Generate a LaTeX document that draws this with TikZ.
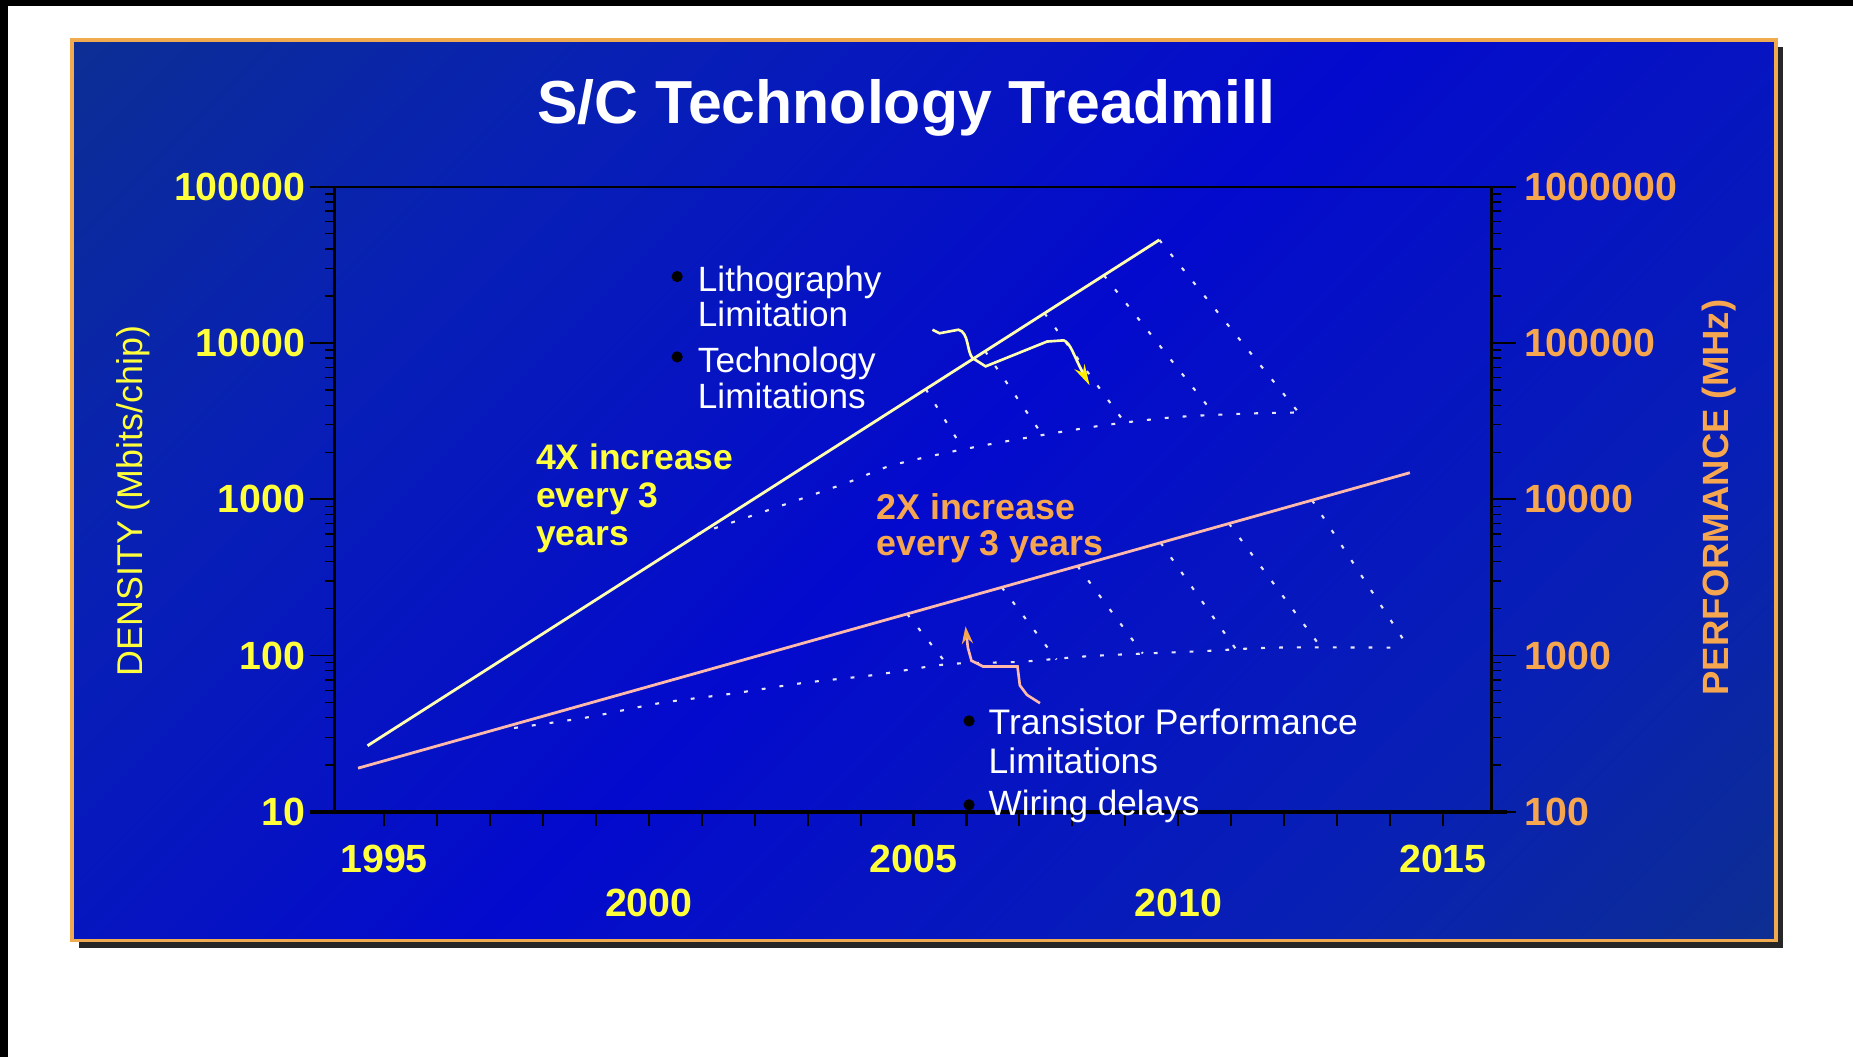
\documentclass[tikz,border=0pt]{standalone}
\usepackage{fontspec}
\setmainfont{Liberation Sans}
\usetikzlibrary{arrows.meta,calc,positioning}
\definecolor{bgdark}{RGB}{16,60,118}
\definecolor{bgmid}{RGB}{8,32,180}
\definecolor{bgbright}{RGB}{4,10,205}
\definecolor{bgdarkb}{RGB}{20,62,108}
\definecolor{ylab}{RGB}{255,255,60}
\definecolor{olab}{RGB}{246,166,78}
\definecolor{frameor}{RGB}{240,170,80}
\definecolor{densline}{RGB}{255,255,175}
\definecolor{perfline}{RGB}{255,185,170}
\definecolor{dotcol}{RGB}{230,230,245}
\pgfdeclarehorizontalshading{slidebg}{100bp}{color(0bp)=(bgdark); color(30bp)=(bgmid); color(50bp)=(bgbright); color(72bp)=(bgmid); color(100bp)=(bgdarkb)}
\begin{document}
\begin{tikzpicture}[x=0.011818cm,y=-0.011818cm,
    ylabel/.style={text=ylab,font=\fontsize{11.2}{12}\selectfont\bfseries,inner sep=0},
    olabel/.style={text=olab,font=\fontsize{11.2}{12}\selectfont\bfseries,inner sep=0},
    note/.style={text=white,font=\fontsize{10}{10.1}\selectfont,align=left,inner sep=0},
    bul/.style={circle,fill=black,inner sep=0,minimum size=3.2pt},
    treadmill/.style={dotcol,line width=0.6pt,dash pattern=on 1.1pt off 4pt}]
    \useasboundingbox (0,0) rectangle (1568,894);
    \fill[white] (0,0) rectangle (1568,894);
    \fill[black] (0,0) rectangle (1568,5);
    \fill[black] (0,0) rectangle (7,894);
    \fill[black!85] (67,40) rectangle (1509,802);
    \shade[shading=slidebg,shading angle=-45] (61,34) rectangle (1503,796);
    \draw[frameor,line width=1pt] (61,34) rectangle (1503,796);
    \node[text=white,font=\fontsize{17.3}{20}\selectfont\bfseries] (title) at (767,91) {S/C Technology Treadmill};
    \draw[line width=0.7pt] (283,158) -- (283,687);
    \draw[line width=0.5pt] (283,158) -- (1262,158);
    \draw[line width=0.7pt] (1262,158) -- (1262,687);
    \draw[line width=1.3pt] (262,687) -- (1275,687);
    \foreach \i in {0,...,4}{
    \draw[line width=0.5pt] (262,{687-132.25*\i}) -- (283,{687-132.25*\i});
    \draw[line width=0.5pt] (1262,{687-132.25*\i}) -- (1283,{687-132.25*\i});}
    \foreach \i in {0,...,3}{
    \foreach \m in {2,...,9}{
    \draw[line width=0.4pt] (283,{687-132.25*(\i+log10(\m))}) -- ++(-8,0);
    \draw[line width=0.4pt] (1262,{687-132.25*(\i+log10(\m))}) -- ++(8,0);}}
    \foreach \k in {0,...,20}
    \draw[line width=0.6pt] ({325+44.8*\k},687) -- ++(0,12);
    \foreach \v [count=\i from 0] in {10,100,1000,10000,100000}
    \node[ylabel,anchor=east] (dl\i) at (259,{687-132.25*\i}) {\v};
    \foreach \v [count=\i from 0] in {100,1000,10000,100000,1000000}
    \node[olabel,anchor=west] (pl\i) at (1289,{687-132.25*\i}) {\v};
    \foreach \yr/\row in {1995/0,2000/1,2005/0,2010/1,2015/0}
    \node[ylabel] (yr\yr) at ({325+44.8*(\yr-1995)},{727+37*\row}) {\yr};
    \node[text=ylab,font=\fontsize{10.2}{12}\selectfont,rotate=90] (dens) at (113,424) {DENSITY (Mbits/chip)};
    \node[text=olab,font=\fontsize{10.4}{12}\selectfont\bfseries,rotate=90] (perf) at (1455,421) {PERFORMANCE (MHz)};
    \coordinate (d0) at (311,631);
    \coordinate (d1) at (981,203);
    \coordinate (p0) at (303,650);
    \coordinate (p1) at (1193,400);
    \foreach \t/\ex/\ey in {0.705/815/380,0.78/882/368,0.855/952/358,0.93/1027/350,1.0/1098/348}
    \draw[treadmill] ($(d0)!\t!(d1)$) -- (\ex,\ey);
    \draw[treadmill] plot[smooth] coordinates {(590,452) (655,430) (718,408) (754,394) (811,381) (871,370) (933,360) (994,353) (1054,350) (1100,349)};
    \foreach \t/\ex/\ey in {0.522/802/563,0.612/894/558,0.684/967/553,0.763/1047/551,0.828/1118/548,0.907/1190/545}
    \draw[treadmill] ($(p0)!\t!(p1)$) -- (\ex,\ey);
    \draw[treadmill] plot[smooth] coordinates {(435,616) (497,607) (558,595) (619,587) (679,578) (741,571) (802,562) (863,560) (925,555) (1017,551) (1079,548) (1181,548)};
    \draw[densline,line width=0.8pt] (d0) -- (d1);
    \draw[perfline,line width=0.8pt] (p0) -- (p1);
    \node[text=ylab,font=\fontsize{10.1}{10.8}\selectfont\bfseries,align=left,anchor=west,inner sep=0] (fourx) at (453,422) {4X increase\\every 3\\years};
    \node[text=olab,font=\fontsize{10.2}{10.4}\selectfont\bfseries,align=left,anchor=west,inner sep=0] (twox) at (741,447) {2X increase\\every 3 years};
    \node[note,anchor=west] (litho) at (590,251) {Lithography\\Limitation};
    \node[note,anchor=west] (techno) at (590,320) {Technology\\Limitations};
    \node[note,anchor=west,font=\fontsize{10.1}{11.1}\selectfont] (trans) at (836,627) {Transistor Performance\\Limitations};
    \node[note,anchor=west] (wiring) at (836,682) {Wiring delays};
    \node[bul] (blitho) at (573,234) {};
    \node[bul] (btechno) at (573,302) {};
    \node[bul] (btrans) at (820,610) {};
    \node[bul] (bwiring) at (820,681) {};
    \coordinate (ya0) at (789,279);
    \coordinate (ya1) at (922,326);
    \draw[densline,line width=0.75pt,-{Stealth[length=6pt,width=3.2pt,color=yellow]}] (ya0) -- (795,282) -- (811,279) .. controls (820,281) and (818,298) .. (823,303) -- (834,310) -- (886,289) -- (900,288) .. controls (906,290) and (908,300) .. (ya1);
    \coordinate (oa0) at (880,595);
    \coordinate (oa1) at (817,530);
    \draw[perfline,line width=0.75pt,-{Stealth[length=5pt,width=3.2pt,color=olab]}] (oa0) -- (869,588) -- (863,580) -- (861,564) -- (832,564) -- (822,559) -- (819,548) -- (oa1);
\end{tikzpicture}
\end{document}
